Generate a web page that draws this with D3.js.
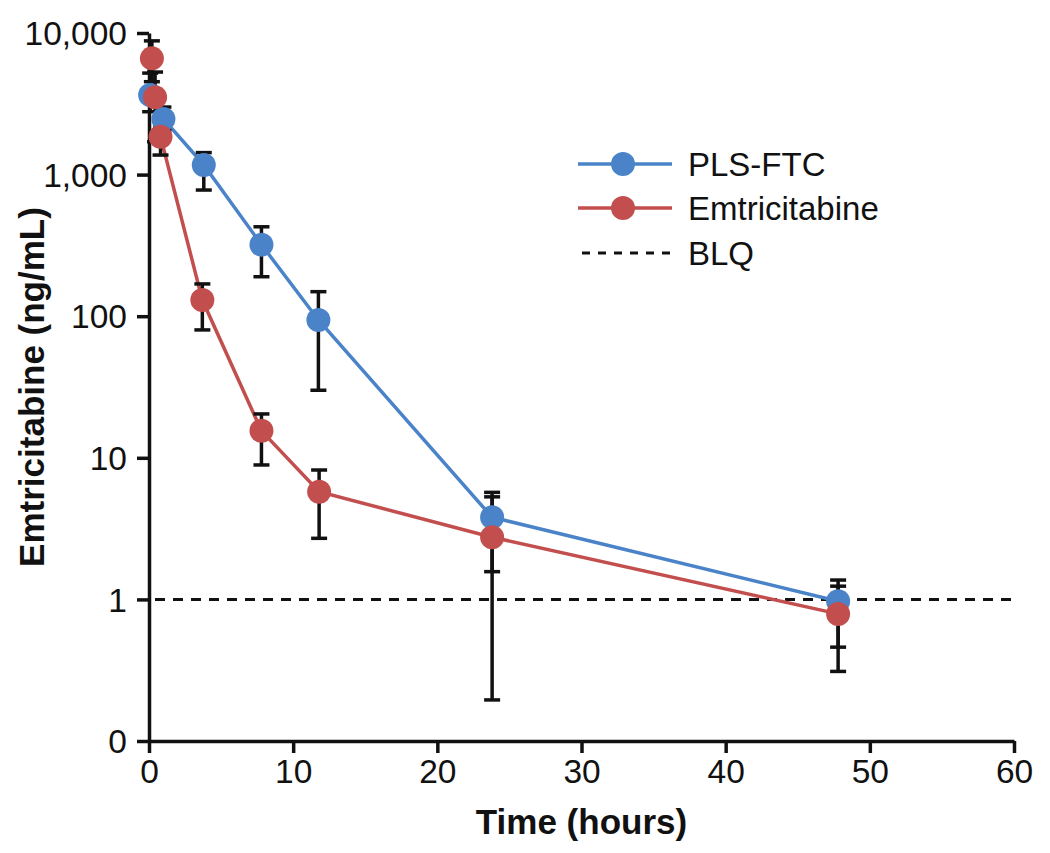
<!DOCTYPE html>
<html>
<head>
<meta charset="utf-8">
<script src="https://cdn.jsdelivr.net/npm/d3@7"></script>
<style>
  html, body { margin: 0; padding: 0; background: #fff; }
  svg { display: block; }
  text { font-family: "Liberation Sans", Arial, Helvetica, sans-serif; fill: #111; }
</style>
</head>
<body>
<svg id="chart" width="1050" height="853"></svg>
<script>
// ---- data ----
const plsTime  = [0.08, 1.0, 3.8, 7.8, 11.75, 23.8, 47.8];
const plsMean  = [3650, 2470, 1170, 320, 94, 3.8, 0.97];
const plsLow   = [2780, 2050, 778, 190, 30, 1.57, 0.46];
const plsHigh  = [5210, 3000, 1430, 428, 149, 5.7, 1.37];

const ftcTime  = [0.2, 0.42, 0.8, 3.7, 7.8, 11.8, 23.8, 47.8];
const ftcMean  = [6620, 3515, 1853, 130, 15.5, 5.76, 2.75, 0.79];
const ftcLow   = [4530, 1706, 1374, 80, 8.9, 2.7, 0.195, 0.31];
const ftcHigh  = [8800, 5300, 2400, 169, 20.4, 8.2, 5.3, 1.24];

const blqValue = 1;

const xTicks = [0, 10, 20, 30, 40, 50, 60];
const yTicks = [0.1, 1, 10, 100, 1000, 10000];
const yTickLabels = ["0", "1", "10", "100", "1,000", "10,000"];

const seriesNames = ["PLS-FTC", "Emtricitabine", "BLQ"];
const seriesColors = ["#4a83c8", "#c34e4e", "#111"];

// ---- layout ----
const svg = d3.select("#chart");
const x = d3.scaleLinear().domain([0, 60]).range([149, 1014]);
const y = d3.scaleLog().domain([0.1, 10000]).range([741, 33]);

// axes
const yAxis = d3.axisLeft(y).tickValues(yTicks)
  .tickFormat((d, i) => yTickLabels[i]).tickSize(12).tickPadding(10).tickSizeOuter(0);
const gy = svg.append("g").attr("transform", `translate(${x(0)},0)`).call(yAxis);
gy.select(".domain").attr("stroke", "#111").attr("stroke-width", 3.5);
gy.selectAll(".tick line").attr("stroke", "#111").attr("stroke-width", 3.5);
gy.selectAll(".tick text").attr("font-size", 33.5).attr("fill", "#222")
  .attr("font-family", "'Liberation Sans', Arial, sans-serif").attr("dy", "0.35em");

const xAxis = d3.axisBottom(x).tickValues(xTicks).tickSize(12).tickPadding(6).tickSizeOuter(0);
const gx = svg.append("g").attr("transform", `translate(0,${y(0.1)})`).call(xAxis);
gx.select(".domain").attr("stroke", "#111").attr("stroke-width", 3.5);
gx.selectAll(".tick line").attr("stroke", "#111").attr("stroke-width", 3.5);
gx.selectAll(".tick text").attr("font-size", 33.5).attr("fill", "#222")
  .attr("font-family", "'Liberation Sans', Arial, sans-serif");

// axis titles
svg.append("text").attr("x", (x(0) + x(60)) / 2).attr("y", 834)
  .attr("text-anchor", "middle").attr("font-size", 35).attr("font-weight", "bold")
  .text("Time (hours)");
svg.append("text")
  .attr("transform", `translate(44,${(y(0.1) + y(10000)) / 2}) rotate(-90)`)
  .attr("text-anchor", "middle").attr("font-size", 35).attr("font-weight", "bold")
  .text("Emtricitabine (ng/mL)");

// BLQ dashed line
svg.append("line")
  .attr("x1", x(0) + 6).attr("x2", x(60))
  .attr("y1", y(blqValue)).attr("y2", y(blqValue))
  .attr("stroke", "#111").attr("stroke-width", 3).attr("stroke-dasharray", "10,8");

const series = [
  { t: plsTime, m: plsMean, lo: plsLow, hi: plsHigh, color: seriesColors[0] },
  { t: ftcTime, m: ftcMean, lo: ftcLow, hi: ftcHigh, color: seriesColors[1] }
];

const line = d3.line().x(d => x(d.t)).y(d => y(d.m));

// lines
series.forEach(s => {
  const pts = s.t.map((t, i) => ({ t, m: s.m[i] }));
  svg.append("path").datum(pts).attr("d", line)
    .attr("fill", "none").attr("stroke", s.color).attr("stroke-width", 3.5);
});

// error bars
series.forEach(s => {
  const g = svg.append("g").attr("stroke", "#111").attr("stroke-width", 3.5);
  s.t.forEach((t, i) => {
    const cx = x(t);
    g.append("line").attr("x1", cx).attr("x2", cx).attr("y1", y(s.lo[i])).attr("y2", y(s.hi[i]));
    g.append("line").attr("x1", cx - 8).attr("x2", cx + 8).attr("y1", y(s.lo[i])).attr("y2", y(s.lo[i]));
    g.append("line").attr("x1", cx - 8).attr("x2", cx + 8).attr("y1", y(s.hi[i])).attr("y2", y(s.hi[i]));
  });
});

// points
series.forEach(s => {
  svg.append("g").selectAll("circle").data(s.t.map((t, i) => ({ t, m: s.m[i] })))
    .join("circle").attr("cx", d => x(d.t)).attr("cy", d => y(d.m))
    .attr("r", 12).attr("fill", s.color);
});

// legend
const legY = [164, 208, 253];
const lg = svg.append("g");
seriesNames.forEach((name, i) => {
  const yy = legY[i];
  if (i < 2) {
    lg.append("line").attr("x1", 578).attr("x2", 672).attr("y1", yy).attr("y2", yy)
      .attr("stroke", seriesColors[i]).attr("stroke-width", 3.5);
    lg.append("circle").attr("cx", 623).attr("cy", yy).attr("r", 12).attr("fill", seriesColors[i]);
  } else {
    lg.append("line").attr("x1", 582).attr("x2", 672).attr("y1", yy).attr("y2", yy)
      .attr("stroke", seriesColors[i]).attr("stroke-width", 3).attr("stroke-dasharray", "8,8");
  }
  lg.append("text").attr("x", 688).attr("y", yy + 12).attr("font-size", 33).attr("fill", "#222")
    .text(name);
});
</script>
</body>
</html>
